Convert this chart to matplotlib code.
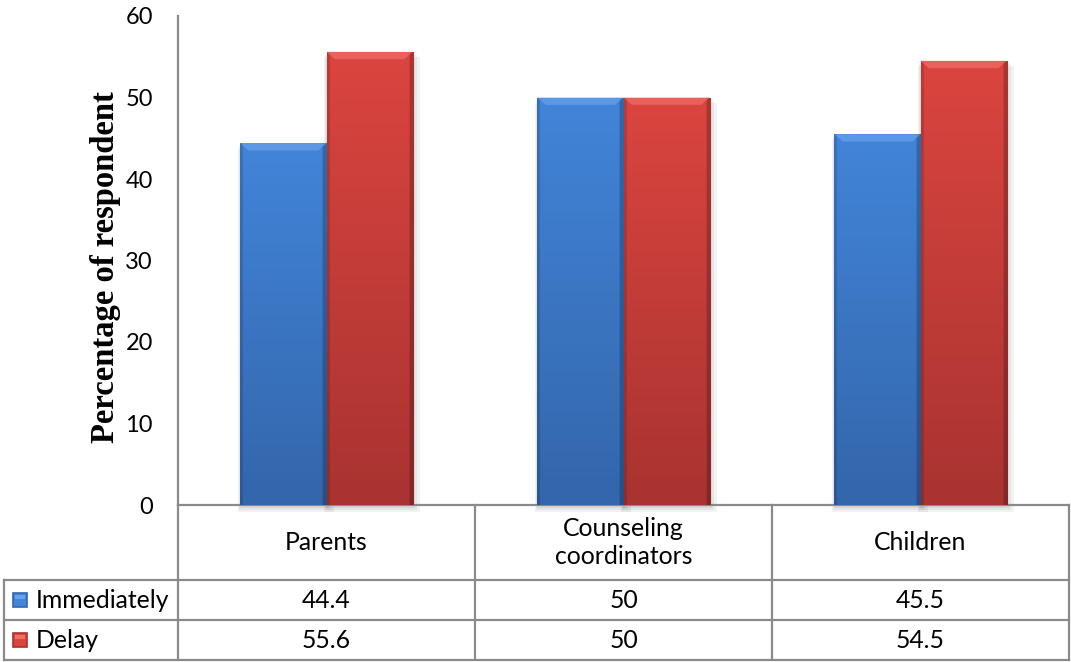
import numpy as np
import matplotlib
matplotlib.use("Agg")
import matplotlib.pyplot as plt
from matplotlib.patches import Rectangle, Polygon

categories = ["Parents", "Counseling\ncoordinators", "Children"]
series_names = ["Immediately", "Delay"]
immediately = [44.4, 50, 45.5]
delay = [55.6, 50, 54.5]
value_labels = [["44.4", "50", "45.5"], ["55.6", "50", "54.5"]]
yticks = [0, 10, 20, 30, 40, 50, 60]

# colours: (bottom, top, bevel)
blue = ((0.20, 0.40, 0.67), (0.26, 0.52, 0.85), (0.40, 0.64, 0.93))
red = ((0.66, 0.20, 0.19), (0.86, 0.27, 0.25), (0.94, 0.43, 0.40))
line_c = "#8a8a8a"

W, H = 1071, 662
fig = plt.figure(figsize=(W / 100, H / 100), dpi=100)

# pixel layout
ax_l, ax_r, ax_t, ax_b = 178, 1069, 16, 505
rows = [505, 580, 620, 660]
tab_left = 4

ax = fig.add_axes([ax_l / W, 1 - ax_b / H, (ax_r - ax_l) / W, (ax_b - ax_t) / H])
ax.set_xlim(-0.5, 2.5)
ax.set_ylim(0, 60)
ax.set_yticks(yticks)
ax.set_xticks([])
ax.tick_params(axis="y", length=0, pad=18, labelsize=17)
for lab in ax.get_yticklabels():
    lab.set_fontfamily("Lato")
for s in ["top", "right"]:
    ax.spines[s].set_visible(False)
for s in ["left", "bottom"]:
    ax.spines[s].set_color(line_c)
    ax.spines[s].set_linewidth(1.6)
ax.spines["bottom"].set_zorder(1)

bw = 0.29
x = np.arange(len(categories))


def grad_bar(ax, xc, h, cols):
    bot, top, bev = cols
    x0, x1 = xc - bw / 2, xc + bw / 2
    # soft shadow
    for k, a in enumerate([0.05, 0.05, 0.05]):
        d = 0.008 * (k + 1)
        sh = Rectangle((x0 - d * 0.3, -0.35 - 0.25 * k), bw + d * 1.3, h + 0.2,
                       facecolor="black", alpha=a, lw=0, zorder=0.5, clip_on=False)
        ax.add_patch(sh)
    ny, nx = 200, 60
    s = np.linspace(0, 1, ny)[:, None, None]
    img = np.array(bot)[None, None, :] * (1 - s) + np.array(top)[None, None, :] * s
    img = np.repeat(img, nx, axis=1)
    hx = np.linspace(0, 1, nx)
    shade = np.ones(nx)
    shade[hx > 0.95] = 0.78
    shade[hx < 0.03] = 0.85
    img = np.clip(img * shade[None, :, None], 0, 1)
    rect = Rectangle((x0, 0), bw, h, facecolor="none", lw=0, zorder=2)
    ax.add_patch(rect)
    im = ax.imshow(img, extent=(x0, x1, 0, h), origin="lower", aspect="auto",
                   interpolation="bilinear", zorder=2)
    im.set_clip_path(rect)
    dx, dy = 0.028, 0.9
    bev_p = Polygon([(x0, h), (x1, h), (x1 - dx, h - dy), (x0 + dx, h - dy)],
                    closed=True, facecolor=bev, lw=0, alpha=0.7, zorder=3)
    ax.add_patch(bev_p)


for i in range(len(categories)):
    grad_bar(ax, x[i] - bw / 2, immediately[i], blue)
    grad_bar(ax, x[i] + bw / 2, delay[i], red)
ax.set_xlim(-0.5, 2.5)
ax.set_ylim(0, 60)

# overlay in pixel coordinates for the data table
ov = fig.add_axes([0, 0, 1, 1], facecolor="none")
ov.set_xlim(0, W)
ov.set_ylim(H, 0)
ov.axis("off")

edges = [ax.transData.transform((v, 0))[0] for v in np.arange(-0.5, len(categories), 1.0)]
centers = [(edges[i] + edges[i + 1]) / 2 for i in range(len(categories))]
lk = dict(color=line_c, lw=1.6, solid_capstyle="projecting")

# horizontal lines
for r in rows[1:]:
    ov.plot([tab_left, edges[-1]], [r, r], **lk)
# vertical lines
ov.plot([tab_left, tab_left], [rows[1], rows[-1]], **lk)
for e in edges:
    ov.plot([e, e], [rows[0], rows[-1]], **lk)

fs = 17.8
rc = (rows[0] + rows[1]) / 2
for i, c in enumerate(categories):
    ov.text(centers[i], rc, c, ha="center", va="center", fontsize=fs,
            family="Lato", linespacing=1.3)

for j, (name, cols) in enumerate(zip(series_names, [blue, red])):
    yc = (rows[j + 1] + rows[j + 2]) / 2
    ov.add_patch(Rectangle((13, yc - 7), 14, 14, facecolor=cols[1],
                           edgecolor=cols[0], lw=1.2))
    ov.add_patch(Rectangle((15, yc - 5.5), 10, 4, facecolor=cols[2], lw=0))
    ov.text(36, yc, name, ha="left", va="center", fontsize=fs, family="Lato")
    for i in range(len(categories)):
        ov.text(centers[i], yc, value_labels[j][i], ha="center", va="center",
                fontsize=fs, family="Lato")

ov.text(106, 267, "Percentage of respondent", rotation=90, ha="center", va="center",
        fontsize=23.5, fontweight="bold", family="Liberation Serif")

fig.savefig("out.png", dpi=100)
